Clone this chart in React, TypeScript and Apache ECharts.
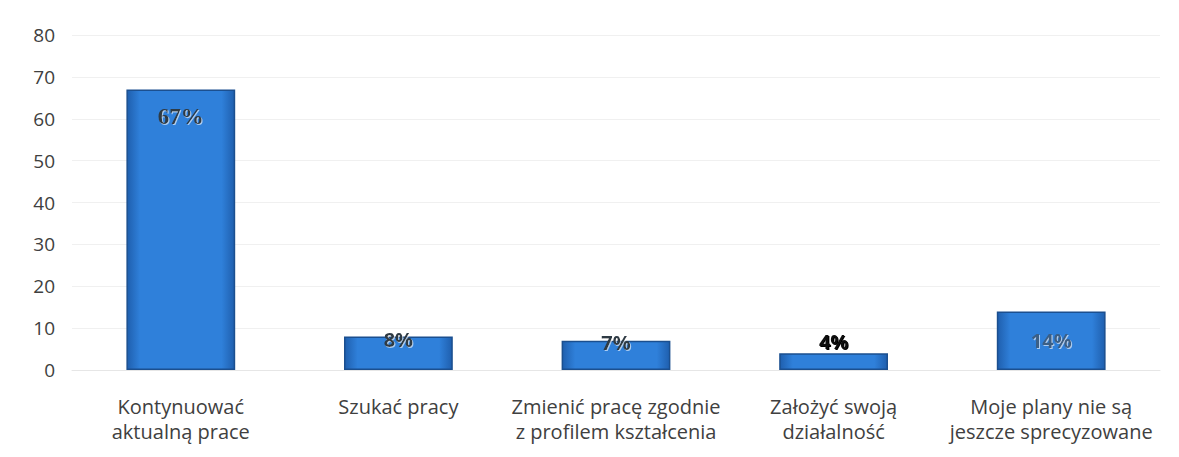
import React, { useEffect, useRef } from "react";
import * as echarts from "echarts";

const categories = [
  "Kontynuować\naktualną prace",
  "Szukać pracy",
  "Zmienić pracę zgodnie\nz profilem kształcenia",
  "Założyć swoją\ndziałalność",
  "Moje plany nie są\njeszcze sprecyzowane",
];
const values = [67, 8, 7, 4, 14];
const labelPositions = ["insideTop", "inside", "inside", "top", "inside"];

export default function App() {
  const ref = useRef<HTMLDivElement>(null);
  useEffect(() => {
    document.body.style.margin = "0";
    const chart = echarts.init(ref.current!, null, { renderer: "svg" });
    const barGradient = new echarts.graphic.LinearGradient(0, 0, 1, 0, [
      { offset: 0, color: "#1f5fae" },
      { offset: 0.12, color: "#2f80da" },
      { offset: 0.88, color: "#2f80da" },
      { offset: 1, color: "#1f5fae" },
    ]);
    const offsets = [
      [0, 0],
      [0, -14],
      [0, -13],
      [0, 0],
      [0, 0],
    ];
    chart.setOption({
      animation: false,
      backgroundColor: "#ffffff",
      grid: { left: 72, right: 19, top: 35, bottom: 87 },
      xAxis: {
        type: "category",
        data: categories,
        axisLine: { show: true, lineStyle: { color: "#e6e6e6" } },
        axisTick: { show: false },
        axisLabel: {
          color: "#404040",
          fontFamily: "Open Sans",
          fontSize: 20,
          lineHeight: 25,
          margin: 24,
          interval: 0,
        },
      },
      yAxis: {
        type: "value",
        min: 0,
        max: 80,
        interval: 10,
        axisLine: { show: false },
        axisTick: { show: false },
        splitLine: { lineStyle: { color: "#f0f0f0" } },
        axisLabel: {
          color: "#404040",
          fontFamily: "Open Sans",
          fontSize: 19,
          margin: 17,
        },
      },
      series: [
        {
          type: "bar",
          barWidth: "50%",
          data: values.map((v, i) => ({
            value: v,
            label: {
              show: true,
              position: labelPositions[i],
              distance: i === 0 ? 16 : 2,
              formatter: "{c}%",
              fontFamily: i === 0 ? "Liberation Serif" : "Open Sans",
              fontWeight: "bold",
              fontSize: i === 0 ? 23 : 20,
              color: i === 3 ? "#111111" : i === 4 ? "#3a5f86" : "#2f3a44",
              textShadowColor: i === 3 ? "transparent" : "rgba(255,255,255,0.6)",
              textShadowBlur: 1,
              textShadowOffsetX: 1,
              textShadowOffsetY: 1,
              offset: offsets[i],
            },
          })),
          itemStyle: {
            color: barGradient,
            borderColor: "#1b4f8f",
            borderWidth: 1.5,
          },
        },
      ],
    });
    return () => chart.dispose();
  }, []);
  return (
    <div
      ref={ref}
      style={{ position: "fixed", left: 0, top: 0, width: 1179, height: 457 }}
    />
  );
}
